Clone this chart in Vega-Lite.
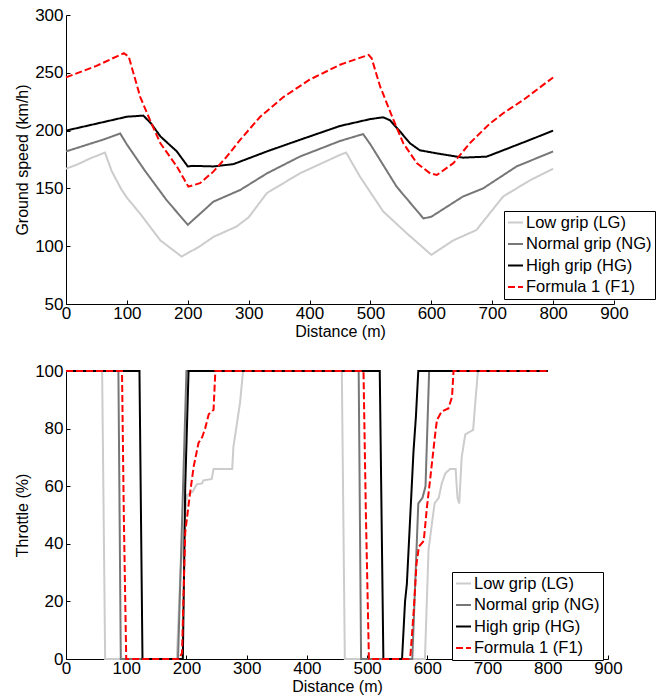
{
  "$schema": "https://vega.github.io/schema/vega-lite/v6.json",
  "background": "white",
  "padding": {"left": 14, "top": 6, "right": 5, "bottom": 5},
  "spacing": 23,
  "config": {
    "font": "Liberation Sans",
    "view": {"stroke": null},
    "axis": {
      "grid": false,
      "domainColor": "black",
      "tickColor": "black",
      "tickSize": -4,
      "labelColor": "black",
      "labelFont": "Liberation Sans",
      "labelFontSize": 17,
      "labelFlush": false,
      "labelOverlap": false,
      "labelBound": false,
      "labelPadding": 7,
      "titleFont": "Liberation Sans",
      "titleFontSize": 16,
      "titleFontWeight": "normal",
      "titleColor": "black"
    },
    "legend": {
      "orient": "none",
      "title": null,
      "strokeColor": "black",
      "fillColor": "white",
      "padding": 3,
      "symbolType": "stroke",
      "symbolSize": 225,
      "symbolStrokeWidth": 2,
      "labelFont": "Liberation Sans",
      "labelFontSize": 16.5,
      "labelColor": "black",
      "labelOffset": 2,
      "rowPadding": 4.5,
      "labelLimit": 300
    }
  },
  "datasets": {
    "speed": [
      {"d": 0, "v": 167, "s": "Low grip (LG)"},
      {"d": 20, "v": 171, "s": "Low grip (LG)"},
      {"d": 40, "v": 176, "s": "Low grip (LG)"},
      {"d": 64, "v": 181, "s": "Low grip (LG)"},
      {"d": 75, "v": 165, "s": "Low grip (LG)"},
      {"d": 90, "v": 150, "s": "Low grip (LG)"},
      {"d": 100, "v": 142, "s": "Low grip (LG)"},
      {"d": 122, "v": 128, "s": "Low grip (LG)"},
      {"d": 155, "v": 105, "s": "Low grip (LG)"},
      {"d": 175, "v": 97, "s": "Low grip (LG)"},
      {"d": 190, "v": 91, "s": "Low grip (LG)"},
      {"d": 200, "v": 94, "s": "Low grip (LG)"},
      {"d": 220, "v": 100, "s": "Low grip (LG)"},
      {"d": 242, "v": 108, "s": "Low grip (LG)"},
      {"d": 280, "v": 117, "s": "Low grip (LG)"},
      {"d": 300, "v": 125, "s": "Low grip (LG)"},
      {"d": 330, "v": 146, "s": "Low grip (LG)"},
      {"d": 384, "v": 163, "s": "Low grip (LG)"},
      {"d": 450, "v": 179, "s": "Low grip (LG)"},
      {"d": 460, "v": 181, "s": "Low grip (LG)"},
      {"d": 483, "v": 160, "s": "Low grip (LG)"},
      {"d": 521, "v": 130, "s": "Low grip (LG)"},
      {"d": 560, "v": 111, "s": "Low grip (LG)"},
      {"d": 600, "v": 92.5, "s": "Low grip (LG)"},
      {"d": 636, "v": 105, "s": "Low grip (LG)"},
      {"d": 674, "v": 114, "s": "Low grip (LG)"},
      {"d": 718, "v": 143, "s": "Low grip (LG)"},
      {"d": 762, "v": 157, "s": "Low grip (LG)"},
      {"d": 800, "v": 167, "s": "Low grip (LG)"},
      {"d": 0, "v": 182, "s": "Normal grip (NG)"},
      {"d": 30, "v": 187, "s": "Normal grip (NG)"},
      {"d": 60, "v": 192, "s": "Normal grip (NG)"},
      {"d": 89, "v": 197.5, "s": "Normal grip (NG)"},
      {"d": 100, "v": 188, "s": "Normal grip (NG)"},
      {"d": 130, "v": 165, "s": "Normal grip (NG)"},
      {"d": 165, "v": 140, "s": "Normal grip (NG)"},
      {"d": 200, "v": 118.5, "s": "Normal grip (NG)"},
      {"d": 220, "v": 128, "s": "Normal grip (NG)"},
      {"d": 242, "v": 138.5, "s": "Normal grip (NG)"},
      {"d": 286, "v": 148.6, "s": "Normal grip (NG)"},
      {"d": 330, "v": 163, "s": "Normal grip (NG)"},
      {"d": 384, "v": 177.5, "s": "Normal grip (NG)"},
      {"d": 450, "v": 191, "s": "Normal grip (NG)"},
      {"d": 488, "v": 197, "s": "Normal grip (NG)"},
      {"d": 500, "v": 188, "s": "Normal grip (NG)"},
      {"d": 543, "v": 151.5, "s": "Normal grip (NG)"},
      {"d": 587, "v": 124, "s": "Normal grip (NG)"},
      {"d": 600, "v": 125.5, "s": "Normal grip (NG)"},
      {"d": 652, "v": 143, "s": "Normal grip (NG)"},
      {"d": 685, "v": 150, "s": "Normal grip (NG)"},
      {"d": 740, "v": 169, "s": "Normal grip (NG)"},
      {"d": 800, "v": 182, "s": "Normal grip (NG)"},
      {"d": 0, "v": 200, "s": "High grip (HG)"},
      {"d": 50, "v": 206, "s": "High grip (HG)"},
      {"d": 100, "v": 212, "s": "High grip (HG)"},
      {"d": 127, "v": 213, "s": "High grip (HG)"},
      {"d": 140, "v": 206, "s": "High grip (HG)"},
      {"d": 155, "v": 195, "s": "High grip (HG)"},
      {"d": 182, "v": 182, "s": "High grip (HG)"},
      {"d": 200, "v": 169, "s": "High grip (HG)"},
      {"d": 209, "v": 169.5, "s": "High grip (HG)"},
      {"d": 242, "v": 169, "s": "High grip (HG)"},
      {"d": 275, "v": 171, "s": "High grip (HG)"},
      {"d": 330, "v": 182, "s": "High grip (HG)"},
      {"d": 384, "v": 192, "s": "High grip (HG)"},
      {"d": 450, "v": 204, "s": "High grip (HG)"},
      {"d": 500, "v": 210, "s": "High grip (HG)"},
      {"d": 521, "v": 211.5, "s": "High grip (HG)"},
      {"d": 532, "v": 209, "s": "High grip (HG)"},
      {"d": 549, "v": 199, "s": "High grip (HG)"},
      {"d": 565, "v": 189, "s": "High grip (HG)"},
      {"d": 581, "v": 183, "s": "High grip (HG)"},
      {"d": 609, "v": 180.3, "s": "High grip (HG)"},
      {"d": 652, "v": 176.6, "s": "High grip (HG)"},
      {"d": 691, "v": 177.5, "s": "High grip (HG)"},
      {"d": 718, "v": 183, "s": "High grip (HG)"},
      {"d": 762, "v": 192, "s": "High grip (HG)"},
      {"d": 800, "v": 200, "s": "High grip (HG)"},
      {"d": 0, "v": 246, "s": "Formula 1 (F1)"},
      {"d": 50, "v": 256, "s": "Formula 1 (F1)"},
      {"d": 95, "v": 267, "s": "Formula 1 (F1)"},
      {"d": 103, "v": 264, "s": "Formula 1 (F1)"},
      {"d": 122, "v": 229, "s": "Formula 1 (F1)"},
      {"d": 138, "v": 209, "s": "Formula 1 (F1)"},
      {"d": 155, "v": 189, "s": "Formula 1 (F1)"},
      {"d": 182, "v": 169, "s": "Formula 1 (F1)"},
      {"d": 201, "v": 151.5, "s": "Formula 1 (F1)"},
      {"d": 220, "v": 154.5, "s": "Formula 1 (F1)"},
      {"d": 242, "v": 164.5, "s": "Formula 1 (F1)"},
      {"d": 264, "v": 177.5, "s": "Formula 1 (F1)"},
      {"d": 286, "v": 192, "s": "Formula 1 (F1)"},
      {"d": 319, "v": 212, "s": "Formula 1 (F1)"},
      {"d": 357, "v": 229, "s": "Formula 1 (F1)"},
      {"d": 400, "v": 244, "s": "Formula 1 (F1)"},
      {"d": 450, "v": 257, "s": "Formula 1 (F1)"},
      {"d": 497, "v": 265.5, "s": "Formula 1 (F1)"},
      {"d": 502, "v": 262.5, "s": "Formula 1 (F1)"},
      {"d": 516, "v": 238, "s": "Formula 1 (F1)"},
      {"d": 538, "v": 209, "s": "Formula 1 (F1)"},
      {"d": 554, "v": 189, "s": "Formula 1 (F1)"},
      {"d": 576, "v": 172, "s": "Formula 1 (F1)"},
      {"d": 598, "v": 163, "s": "Formula 1 (F1)"},
      {"d": 609, "v": 161.6, "s": "Formula 1 (F1)"},
      {"d": 636, "v": 171.7, "s": "Formula 1 (F1)"},
      {"d": 663, "v": 189, "s": "Formula 1 (F1)"},
      {"d": 696, "v": 206, "s": "Formula 1 (F1)"},
      {"d": 718, "v": 215, "s": "Formula 1 (F1)"},
      {"d": 751, "v": 226.5, "s": "Formula 1 (F1)"},
      {"d": 800, "v": 246, "s": "Formula 1 (F1)"}
    ],
    "throttle": [
      {"d": 0, "t": 100, "s": "Low grip (LG)"},
      {"d": 60, "t": 100, "s": "Low grip (LG)"},
      {"d": 65, "t": 0, "s": "Low grip (LG)"},
      {"d": 184, "t": 0, "s": "Low grip (LG)"},
      {"d": 190, "t": 30, "s": "Low grip (LG)"},
      {"d": 201, "t": 57, "s": "Low grip (LG)"},
      {"d": 206, "t": 57.6, "s": "Low grip (LG)"},
      {"d": 210, "t": 58, "s": "Low grip (LG)"},
      {"d": 217, "t": 60.6, "s": "Low grip (LG)"},
      {"d": 226, "t": 61, "s": "Low grip (LG)"},
      {"d": 228, "t": 62, "s": "Low grip (LG)"},
      {"d": 242, "t": 62.5, "s": "Low grip (LG)"},
      {"d": 245, "t": 66, "s": "Low grip (LG)"},
      {"d": 276, "t": 66, "s": "Low grip (LG)"},
      {"d": 278, "t": 73.7, "s": "Low grip (LG)"},
      {"d": 284, "t": 82, "s": "Low grip (LG)"},
      {"d": 289, "t": 89, "s": "Low grip (LG)"},
      {"d": 294, "t": 100, "s": "Low grip (LG)"},
      {"d": 458, "t": 100, "s": "Low grip (LG)"},
      {"d": 463, "t": 0, "s": "Low grip (LG)"},
      {"d": 596, "t": 0, "s": "Low grip (LG)"},
      {"d": 602, "t": 38, "s": "Low grip (LG)"},
      {"d": 612, "t": 54, "s": "Low grip (LG)"},
      {"d": 619, "t": 56, "s": "Low grip (LG)"},
      {"d": 624, "t": 61, "s": "Low grip (LG)"},
      {"d": 630, "t": 64.5, "s": "Low grip (LG)"},
      {"d": 638, "t": 66, "s": "Low grip (LG)"},
      {"d": 647, "t": 66, "s": "Low grip (LG)"},
      {"d": 650, "t": 56, "s": "Low grip (LG)"},
      {"d": 653, "t": 54, "s": "Low grip (LG)"},
      {"d": 657, "t": 70, "s": "Low grip (LG)"},
      {"d": 663, "t": 78, "s": "Low grip (LG)"},
      {"d": 676, "t": 79.5, "s": "Low grip (LG)"},
      {"d": 680, "t": 90, "s": "Low grip (LG)"},
      {"d": 684, "t": 100, "s": "Low grip (LG)"},
      {"d": 800, "t": 100, "s": "Low grip (LG)"},
      {"d": 0, "t": 100, "s": "Normal grip (NG)"},
      {"d": 87, "t": 100, "s": "Normal grip (NG)"},
      {"d": 91, "t": 0, "s": "Normal grip (NG)"},
      {"d": 186, "t": 0, "s": "Normal grip (NG)"},
      {"d": 200, "t": 100, "s": "Normal grip (NG)"},
      {"d": 486, "t": 100, "s": "Normal grip (NG)"},
      {"d": 490, "t": 0, "s": "Normal grip (NG)"},
      {"d": 575, "t": 0, "s": "Normal grip (NG)"},
      {"d": 585, "t": 54, "s": "Normal grip (NG)"},
      {"d": 592, "t": 56, "s": "Normal grip (NG)"},
      {"d": 597, "t": 60, "s": "Normal grip (NG)"},
      {"d": 603, "t": 100, "s": "Normal grip (NG)"},
      {"d": 800, "t": 100, "s": "Normal grip (NG)"},
      {"d": 0, "t": 100, "s": "High grip (HG)"},
      {"d": 122, "t": 100, "s": "High grip (HG)"},
      {"d": 127, "t": 0, "s": "High grip (HG)"},
      {"d": 194, "t": 0, "s": "High grip (HG)"},
      {"d": 198, "t": 60, "s": "High grip (HG)"},
      {"d": 203.5, "t": 100, "s": "High grip (HG)"},
      {"d": 521, "t": 100, "s": "High grip (HG)"},
      {"d": 527, "t": 0, "s": "High grip (HG)"},
      {"d": 558, "t": 0, "s": "High grip (HG)"},
      {"d": 563, "t": 20, "s": "High grip (HG)"},
      {"d": 566, "t": 26, "s": "High grip (HG)"},
      {"d": 577, "t": 72, "s": "High grip (HG)"},
      {"d": 581, "t": 84, "s": "High grip (HG)"},
      {"d": 585, "t": 100, "s": "High grip (HG)"},
      {"d": 800, "t": 100, "s": "High grip (HG)"},
      {"d": 0, "t": 100, "s": "Formula 1 (F1)"},
      {"d": 93, "t": 100, "s": "Formula 1 (F1)"},
      {"d": 96, "t": 50, "s": "Formula 1 (F1)"},
      {"d": 100, "t": 0, "s": "Formula 1 (F1)"},
      {"d": 187, "t": 0, "s": "Formula 1 (F1)"},
      {"d": 192.6, "t": 2, "s": "Formula 1 (F1)"},
      {"d": 198, "t": 44, "s": "Formula 1 (F1)"},
      {"d": 206, "t": 57.6, "s": "Formula 1 (F1)"},
      {"d": 212, "t": 66.8, "s": "Formula 1 (F1)"},
      {"d": 220, "t": 75, "s": "Formula 1 (F1)"},
      {"d": 226, "t": 77, "s": "Formula 1 (F1)"},
      {"d": 231, "t": 80, "s": "Formula 1 (F1)"},
      {"d": 237, "t": 85, "s": "Formula 1 (F1)"},
      {"d": 245, "t": 86.5, "s": "Formula 1 (F1)"},
      {"d": 248, "t": 100, "s": "Formula 1 (F1)"},
      {"d": 494, "t": 100, "s": "Formula 1 (F1)"},
      {"d": 498, "t": 50, "s": "Formula 1 (F1)"},
      {"d": 503, "t": 0, "s": "Formula 1 (F1)"},
      {"d": 569, "t": 0, "s": "Formula 1 (F1)"},
      {"d": 572, "t": 1.5, "s": "Formula 1 (F1)"},
      {"d": 577.5, "t": 17, "s": "Formula 1 (F1)"},
      {"d": 582, "t": 33, "s": "Formula 1 (F1)"},
      {"d": 586, "t": 39, "s": "Formula 1 (F1)"},
      {"d": 594, "t": 41, "s": "Formula 1 (F1)"},
      {"d": 599.5, "t": 53, "s": "Formula 1 (F1)"},
      {"d": 605, "t": 63, "s": "Formula 1 (F1)"},
      {"d": 613, "t": 78, "s": "Formula 1 (F1)"},
      {"d": 616, "t": 83, "s": "Formula 1 (F1)"},
      {"d": 624, "t": 86, "s": "Formula 1 (F1)"},
      {"d": 635, "t": 87, "s": "Formula 1 (F1)"},
      {"d": 641, "t": 91, "s": "Formula 1 (F1)"},
      {"d": 643.5, "t": 100, "s": "Formula 1 (F1)"},
      {"d": 800, "t": 100, "s": "Formula 1 (F1)"}
    ]
  },
  "resolve": {
    "scale": {"color": "independent", "strokeDash": "independent"},
    "legend": {"color": "independent", "strokeDash": "independent"}
  },
  "vconcat": [
    {
      "width": 548,
      "height": 289,
      "data": {"name": "speed"},
      "mark": {"type": "line", "strokeWidth": 2},
      "encoding": {
        "x": {"field": "d", "type": "quantitative", "title": "Distance (m)",
              "scale": {"domain": [0, 900], "nice": false, "zero": false},
              "axis": {"values": [0,100,200,300,400,500,600,700,800,900], "labelPadding": 5, "titlePadding": 2}},
        "y": {"field": "v", "type": "quantitative", "title": "Ground speed (km/h)",
              "scale": {"domain": [50, 300], "nice": false, "zero": false},
              "axis": {"values": [50,100,150,200,250,300], "titlePadding": 4}},
        "color": {"field": "s", "type": "nominal",
                  "scale": {"domain": ["Low grip (LG)", "Normal grip (NG)", "High grip (HG)", "Formula 1 (F1)"],
                            "range": ["#cccccc", "#777777", "#000000", "#ff0000"]},
                  "legend": {"legendX": 438, "legendY": 196}},
        "strokeDash": {"field": "s", "type": "nominal",
                  "scale": {"domain": ["Low grip (LG)", "Normal grip (NG)", "High grip (HG)", "Formula 1 (F1)"],
                            "range": [[1, 0], [1, 0], [1, 0], [7, 3]]},
                  "legend": {"legendX": 438, "legendY": 196}}
      }
    },
    {
      "width": 542,
      "height": 288,
      "data": {"name": "throttle"},
      "mark": {"type": "line", "strokeWidth": 2},
      "encoding": {
        "x": {"field": "d", "type": "quantitative", "title": "Distance (m)",
              "scale": {"domain": [0, 900], "nice": false, "zero": false},
              "axis": {"values": [0,100,200,300,400,500,600,700,800,900], "labelPadding": 5, "titlePadding": 2}},
        "y": {"field": "t", "type": "quantitative", "title": "Throttle (%)",
              "scale": {"domain": [0, 100], "nice": false},
              "axis": {"values": [0,20,40,60,80,100], "titlePadding": 4}},
        "color": {"field": "s", "type": "nominal",
                  "scale": {"domain": ["Low grip (LG)", "Normal grip (NG)", "High grip (HG)", "Formula 1 (F1)"],
                            "range": ["#cccccc", "#777777", "#000000", "#ff0000"]},
                  "legend": {"legendX": 386, "legendY": 201}},
        "strokeDash": {"field": "s", "type": "nominal",
                  "scale": {"domain": ["Low grip (LG)", "Normal grip (NG)", "High grip (HG)", "Formula 1 (F1)"],
                            "range": [[1, 0], [1, 0], [1, 0], [7, 3]]},
                  "legend": {"legendX": 386, "legendY": 201}}
      }
    }
  ]
}
